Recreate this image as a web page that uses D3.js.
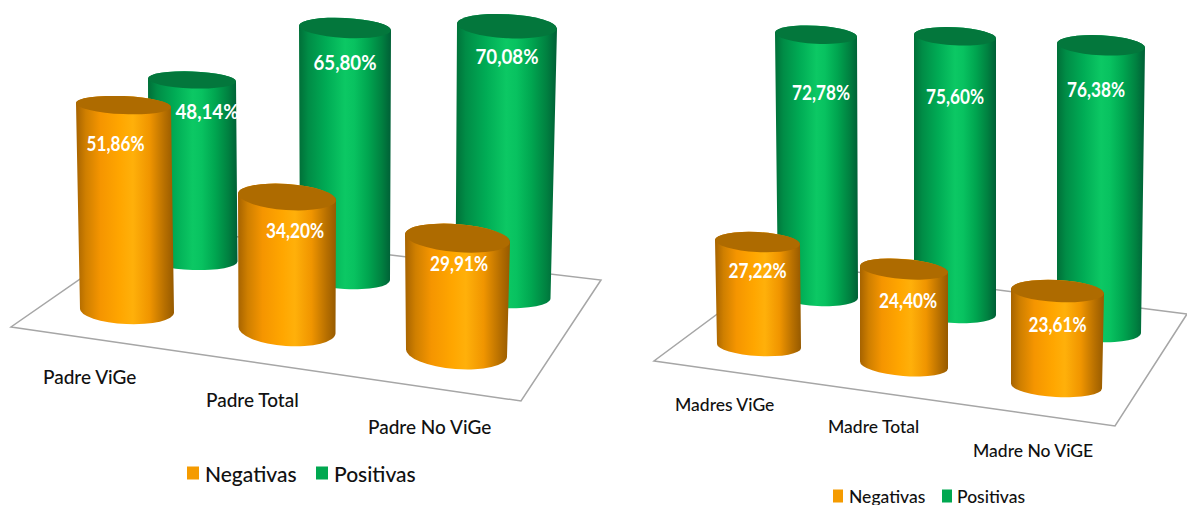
<!DOCTYPE html>
<html>
<head>
<meta charset="utf-8">
<script src="https://cdn.jsdelivr.net/npm/d3@7"></script>
<style>
  html, body { margin: 0; padding: 0; background: #fff; overflow: hidden; }
  svg { display: block; font-family: Lato, "Open Sans", sans-serif; }
</style>
</head>
<body>
<svg id="chart" width="1187" height="505"></svg>
<script>
// *************** DATA ***************
const seriesNames = ["Negativas", "Positivas"];

const categoriesPadre = ["Padre ViGe", "Padre Total", "Padre No ViGe"];
const negativasPadre = [51.86, 34.20, 29.91];
const positivasPadre = [48.14, 65.80, 70.08];

const categoriesMadre = ["Madres ViGe", "Madre Total", "Madre No ViGE"];
const negativasMadre = [27.22, 24.40, 23.61];
const positivasMadre = [72.78, 75.60, 76.38];

// *************** LAYOUT ***************
// every row of cylinders is placed by hand on the slanted floor, one entry per category
const padreLayout = {
  floor: [[11, 327], [521, 401], [601, 280], [155, 227]],
  catX: [43, 206, 368], catY: [376, 399, 426], catSize: 19,
  legend: { y: 473, size: 21, swatch: [12, 13], items: [[187, 205], [316, 334]] },
  rows: {
    Positivas: {
      topX: [192, 345, 507], topR: [44, 46, 50], topRy: [8.5, 10, 12],
      baseX: [193, 345, 503], baseR: [44.5, 45, 47.5], baseRy: [10, 11, 12],
      baseY: [260, 278, 296], slope: [3.74, 3.8, 3.85], tilt: [2, 3, 3],
      labelDx: [15, 0, 0], labelDy: [31, 34, 29], labelSize: 21, labelWidth: 63
    },
    Negativas: {
      topX: [123.5, 287, 457.5], topR: [47.5, 49, 52.5], topRy: [9, 13, 14],
      baseX: [127, 287, 456.5], baseR: [47, 48.5, 50.5], baseRy: [13, 16, 16],
      baseY: [311, 330, 353], slope: [3.97, 3.89, 3.84], tilt: [2.5, 4, 4.5],
      labelDx: [-8, 8, 1.5], labelDy: [38, 33, 25], labelSize: 20, labelWidth: 58
    }
  }
};

const madreLayout = {
  floor: [[654, 361], [1115, 426], [1187, 314], [786, 263]],
  catX: [675, 828, 973], catY: [404, 426, 450], catSize: 17.5,
  legend: { y: 496, size: 17.5, swatch: [10, 13], items: [[833, 849], [942, 957]] },
  rows: {
    Positivas: {
      topX: [816, 955, 1101], topR: [41, 41, 44], topRy: [9, 9, 10],
      baseX: [818, 955, 1099], baseR: [40, 41, 42], baseRy: [10, 10, 11],
      baseY: [296, 313, 331], slope: [3.59, 3.66, 3.74], tilt: [3, 3, 3],
      labelDx: [5, 0, -5], labelDy: [57, 60, 44], labelSize: 20, labelWidth: 58
    },
    Negativas: {
      topX: [757.5, 904, 1057.5], topR: [42.5, 44, 46.5], topRy: [10, 10, 11],
      baseX: [759, 904, 1056.5], baseR: [42, 44, 45.5], baseRy: [10, 11, 11],
      baseY: [346, 365, 386], slope: [3.82, 3.93, 4.02], tilt: [3, 4.5, 3],
      labelDx: [0, 4, 0], labelDy: [28, 31, 33], labelSize: 20, labelWidth: 58
    }
  }
};

const colors = {
  Negativas: {
    swatch: "#f59b00", top: "#ae6b00",
    stops: [[0, "#a66300"], [0.1, "#cf7f00"], [0.25, "#f59500"], [0.45, "#ffa600"], [0.58, "#ffb00a"], [0.75, "#f09500"], [0.9, "#b87000"], [1, "#965a00"]]
  },
  Positivas: {
    swatch: "#00a850", top: "#03773c",
    stops: [[0, "#006f38"], [0.1, "#008c46"], [0.3, "#00ac55"], [0.5, "#0cc864"], [0.6, "#08c260"], [0.75, "#00a650"], [0.9, "#008040"], [1, "#005f36"]]
  }
};

// *************** SETUP ***************
const svg = d3.select("#chart");
const defs = svg.append("defs");

seriesNames.forEach(name => {
  const grad = defs.append("linearGradient")
                   .attr("id", "shade-" + name)
                   .attr("x1", "0%").attr("x2", "100%")
                   .attr("y1", "0%").attr("y2", "0%");
  grad.selectAll("stop")
      .data(colors[name].stops)
      .join("stop")
      .attr("offset", d => d[0])
      .attr("stop-color", d => d[1]);
});

const pct = d3.formatLocale({ decimal: ",", thousands: ".", grouping: [3], currency: ["", "€"] }).format(".2%");

// *************** FUNCTIONS ***************
function cylinderPath(d) {
  const rad = d.tilt * Math.PI / 180,
        topDy = d.topR * Math.sin(rad),
        baseDy = d.baseR * Math.sin(rad);
  return `M${d.topX - d.topR},${d.topY - topDy}` +
         `L${d.baseX - d.baseR},${d.baseY - baseDy}` +
         `A${d.baseR},${d.baseRy} ${d.tilt} 0 0 ${d.baseX + d.baseR},${d.baseY + baseDy}` +
         `L${d.topX + d.topR},${d.topY + topDy}` +
         `A${d.topR},${d.topRy} ${d.tilt} 0 0 ${d.topX - d.topR},${d.topY - topDy}Z`;
}

function rowData(name, categories, values, layout) {
  const row = layout.rows[name];
  const pick = key => d3.scaleOrdinal(categories, row[key]);
  return categories.map((c, i) => {
    const height = d3.scaleLinear().domain([0, 100]).range([0, 100 * pick("slope")(c)]);
    const baseY = pick("baseY")(c);
    return {
      name,
      category: c,
      value: values[i],
      topX: pick("topX")(c), topR: pick("topR")(c), topRy: pick("topRy")(c),
      baseX: pick("baseX")(c), baseR: pick("baseR")(c), baseRy: pick("baseRy")(c),
      baseY,
      tilt: pick("tilt")(c),
      topY: baseY - height(values[i]),
      labelDx: pick("labelDx")(c),
      labelDy: pick("labelDy")(c),
      labelSize: row.labelSize,
      labelWidth: row.labelWidth
    };
  });
}

function drawPanel(categories, negativas, positivas, layout) {
  const g = svg.append("g");

  g.append("polygon")
   .attr("points", layout.floor.join(" "))
   .attr("fill", "#fff")
   .attr("stroke", "#a6a6a6")
   .attr("stroke-width", 1.5);

  // back row first, the orange cylinders stand in front of it
  const bars = rowData("Positivas", categories, positivas, layout)
    .concat(rowData("Negativas", categories, negativas, layout));

  const cyl = g.selectAll("g.cyl")
               .data(bars)
               .join("g")
               .attr("class", "cyl");

  cyl.append("path")
     .attr("d", cylinderPath)
     .attr("fill", d => `url(#shade-${d.name})`);

  cyl.append("ellipse")
     .attr("rx", d => d.topR)
     .attr("ry", d => d.topRy)
     .attr("transform", d => `translate(${d.topX},${d.topY}) rotate(${d.tilt})`)
     .attr("fill", d => colors[d.name].top);

  // the labels in the picture are tall and narrow, Lato gets squeezed to the same width
  g.selectAll("text.value")
   .data(bars)
   .join("text")
   .attr("class", "value")
   .attr("x", d => d.topX + d.labelDx)
   .attr("y", d => d.topY + d.labelDy)
   .attr("text-anchor", "middle")
   .attr("dominant-baseline", "central")
   .attr("fill", "#fff")
   .attr("font-weight", 700)
   .attr("font-size", d => d.labelSize)
   .attr("textLength", d => d.labelWidth)
   .attr("lengthAdjust", "spacingAndGlyphs")
   .text(d => pct(d.value / 100));

  const catX = d3.scaleOrdinal(categories, layout.catX),
        catY = d3.scaleOrdinal(categories, layout.catY);

  g.selectAll("text.cat")
   .data(categories)
   .join("text")
   .attr("class", "cat")
   .attr("x", d => catX(d))
   .attr("y", d => catY(d))
   .attr("dominant-baseline", "central")
   .attr("fill", "#111")
   .attr("font-weight", 500)
   .attr("font-size", layout.catSize)
   .text(d => d);

  const legend = g.selectAll("g.legend")
                  .data(seriesNames)
                  .join("g")
                  .attr("class", "legend");

  legend.append("rect")
        .attr("x", (d, i) => layout.legend.items[i][0])
        .attr("y", layout.legend.y - layout.legend.swatch[1] / 2)
        .attr("width", layout.legend.swatch[0])
        .attr("height", layout.legend.swatch[1])
        .attr("fill", d => colors[d].swatch);

  legend.append("text")
        .attr("x", (d, i) => layout.legend.items[i][1])
        .attr("y", layout.legend.y)
        .attr("dominant-baseline", "central")
        .attr("fill", "#111")
        .attr("font-weight", 500)
        .attr("font-size", layout.legend.size)
        .text(d => d);
}

// *************** DRAW ***************
drawPanel(categoriesPadre, negativasPadre, positivasPadre, padreLayout);
drawPanel(categoriesMadre, negativasMadre, positivasMadre, madreLayout);
</script>
</body>
</html>
